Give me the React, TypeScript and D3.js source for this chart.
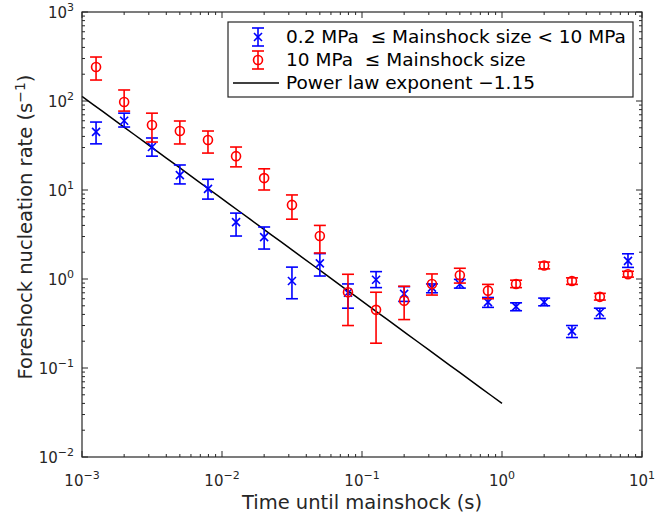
import React from "react";
import * as d3 from "d3";

const xVals = [0.00126, 0.002, 0.00316, 0.005, 0.00794, 0.0126, 0.02, 0.0316, 0.05, 0.0794, 0.126, 0.2, 0.316, 0.5, 0.794, 1.26, 2, 3.16, 5, 7.94];
const blueY = [45, 60, 30.4, 14.7, 10.3, 4.36, 2.95, 0.95, 1.5, 0.7, 0.98, 0.68, 0.8, 0.88, 0.55, 0.49, 0.55, 0.26, 0.42, 1.6];
const blueLo = [33, 51, 24, 11.7, 7.9, 3.04, 2.17, 0.6, 1.08, 0.47, 0.8, 0.56, 0.7, 0.79, 0.48, 0.44, 0.5, 0.22, 0.36, 1.35];
const blueHi = [58, 73, 38.4, 19.1, 13.2, 5.5, 3.84, 1.36, 1.93, 0.88, 1.21, 0.82, 0.88, 0.99, 0.62, 0.54, 0.61, 0.3, 0.47, 1.92];
const redY = [241, 97.5, 53.7, 46, 36.5, 24, 13.6, 6.8, 3.04, 0.71, 0.45, 0.57, 0.88, 1.1, 0.74, 0.88, 1.42, 0.95, 0.63, 1.13];
const redLo = [172, 77, 34.6, 32.9, 26, 18.2, 10, 4.7, 1.96, 0.3, 0.19, 0.35, 0.66, 0.9, 0.6, 0.8, 1.3, 0.87, 0.58, 1.05];
const redHi = [312, 133, 73, 59.6, 46, 30.4, 17.3, 8.8, 4.0, 1.13, 0.71, 0.83, 1.14, 1.32, 0.87, 0.97, 1.55, 1.03, 0.69, 1.22];

const powerLawRange = [0.001, 1];
const powerLawExponent = -1.15;
const powerLawCoef = 0.04;

const xDecades = [-3, -2, -1, 0, 1];
const yDecades = [-2, -1, 0, 1, 2, 3];

const legendLabels = ["0.2 MPa  \u2264 Mainshock size < 10 MPa", "10 MPa  \u2264 Mainshock size", "Power law exponent \u22121.15"];

const L = 82, R = 642, T = 12, B = 457;
const BLUE = "#0000ff";
const RED = "#ff0000";
const FONT = "'DejaVu Sans', Verdana, sans-serif";

export default function App() {
  const x = d3.scaleLog().domain([1e-3, 10]).range([L, R]);
  const y = d3.scaleLog().domain([1e-2, 1e3]).range([B, T]);

  const xMinor: number[] = [];
  xDecades.slice(0, -1).forEach((e) => {
    for (let m = 2; m <= 9; m++) xMinor.push(m * Math.pow(10, e));
  });
  const yMinor: number[] = [];
  yDecades.slice(0, -1).forEach((e) => {
    for (let m = 2; m <= 9; m++) yMinor.push(m * Math.pow(10, e));
  });

  const plX = d3.range(0, 41).map((i) => powerLawRange[0] * Math.pow(powerLawRange[1] / powerLawRange[0], i / 40));
  const line = d3
    .line<number>()
    .x((d) => x(d))
    .y((d) => y(powerLawCoef * Math.pow(d, powerLawExponent)));

  const cap = 6;
  const xs = 4;

  const errBar = (cx: number, lo: number, hi: number, color: string, key: string) => (
    <g key={key} stroke={color} strokeWidth={1.6} fill="none">
      <line x1={cx} x2={cx} y1={y(lo)} y2={y(hi)} />
      <line x1={cx - cap} x2={cx + cap} y1={y(lo)} y2={y(lo)} />
      <line x1={cx - cap} x2={cx + cap} y1={y(hi)} y2={y(hi)} />
    </g>
  );

  const xMark = (cx: number, cy: number, key: string) => (
    <g key={key} stroke={BLUE} strokeWidth={1.6}>
      <line x1={cx - xs} x2={cx + xs} y1={cy - xs} y2={cy + xs} />
      <line x1={cx - xs} x2={cx + xs} y1={cy + xs} y2={cy - xs} />
    </g>
  );

  const tickColor = "#262626";
  const expText = (e: number) => (e < 0 ? "\u2212" + Math.abs(e) : String(e));

  return (
    <svg width={656} height={515} style={{ position: "absolute", left: 0, top: 0, background: "#fff" }} fontFamily={FONT}>
      <rect x={0} y={0} width={656} height={515} fill="#fff" />
      {/* ticks */}
      <g stroke={tickColor} strokeWidth={1}>
        {xDecades.map((e) => {
          const px = x(Math.pow(10, e));
          return (
            <g key={"xM" + e}>
              <line x1={px} x2={px} y1={B} y2={B - 6} />
              <line x1={px} x2={px} y1={T} y2={T + 6} />
            </g>
          );
        })}
        {xMinor.map((v, i) => {
          const px = x(v);
          return (
            <g key={"xm" + i}>
              <line x1={px} x2={px} y1={B} y2={B - 3} />
              <line x1={px} x2={px} y1={T} y2={T + 3} />
            </g>
          );
        })}
        {yDecades.map((e) => {
          const py = y(Math.pow(10, e));
          return (
            <g key={"yM" + e}>
              <line x1={L} x2={L + 6} y1={py} y2={py} />
              <line x1={R} x2={R - 6} y1={py} y2={py} />
            </g>
          );
        })}
        {yMinor.map((v, i) => {
          const py = y(v);
          return (
            <g key={"ym" + i}>
              <line x1={L} x2={L + 3} y1={py} y2={py} />
              <line x1={R} x2={R - 3} y1={py} y2={py} />
            </g>
          );
        })}
      </g>

      {/* power law line */}
      <path d={line(plX) || ""} stroke="#000" strokeWidth={1.5} fill="none" />

      {/* blue series */}
      {xVals.map((v, i) => errBar(x(v), blueLo[i], blueHi[i], BLUE, "be" + i))}
      {xVals.map((v, i) => xMark(x(v), y(blueY[i]), "bm" + i))}

      {/* red series */}
      {xVals.map((v, i) => errBar(x(v), redLo[i], redHi[i], RED, "re" + i))}
      {xVals.map((v, i) => (
        <circle key={"rm" + i} cx={x(v)} cy={y(redY[i])} r={4.5} stroke={RED} strokeWidth={1.6} fill="none" />
      ))}

      {/* axes box */}
      <rect x={L} y={T} width={R - L} height={B - T} fill="none" stroke={tickColor} strokeWidth={1.2} />

      {/* x tick labels */}
      {xDecades.map((e) => (
        <text key={"xl" + e} x={x(Math.pow(10, e))} y={486} textAnchor="middle" fontSize={15} fill="#262626">
          10
          <tspan dy={-7} fontSize={11}>{expText(e)}</tspan>
        </text>
      ))}
      {/* y tick labels */}
      {yDecades.map((e) => (
        <text key={"yl" + e} x={74} y={y(Math.pow(10, e)) + 6} textAnchor="end" fontSize={15} fill="#262626">
          10
          <tspan dy={-7} fontSize={11}>{expText(e)}</tspan>
        </text>
      ))}

      {/* axis titles */}
      <text x={(L + R) / 2} y={509} textAnchor="middle" fontSize={19.5} fill="#262626">
        Time until mainshock (s)
      </text>
      <text transform={`translate(32, 227) rotate(-90)`} textAnchor="middle" fontSize={19.5} fill="#262626">
        Foreshock nucleation rate (s
        <tspan dy={-7} fontSize={14}>{"\u22121"}</tspan>
        <tspan dy={7}>)</tspan>
      </text>

      {/* legend */}
      <g>
        <rect x={228} y={22} width={405} height={75} fill="#fff" stroke={tickColor} strokeWidth={1.2} />
        <g stroke={BLUE} strokeWidth={1.6}>
          <line x1={258} x2={258} y1={28} y2={46} />
          <line x1={258 - cap} x2={258 + cap} y1={28} y2={28} />
          <line x1={258 - cap} x2={258 + cap} y1={46} y2={46} />
        </g>
        {xMark(258, 37, "lgbm")}
        <g stroke={RED} strokeWidth={1.6} fill="none">
          <line x1={258} x2={258} y1={51} y2={69} />
          <line x1={258 - cap} x2={258 + cap} y1={51} y2={51} />
          <line x1={258 - cap} x2={258 + cap} y1={69} y2={69} />
          <circle cx={258} cy={60} r={4.5} />
        </g>
        <line x1={233} x2={279} y1={83} y2={83} stroke="#000" strokeWidth={1.5} />
        {legendLabels.map((t, i) => (
          <text key={"lg" + i} x={286} y={43 + i * 23} fontSize={18.5} fill="#000" style={{ whiteSpace: "pre" }}>
            {t}
          </text>
        ))}
      </g>
    </svg>
  );
}
